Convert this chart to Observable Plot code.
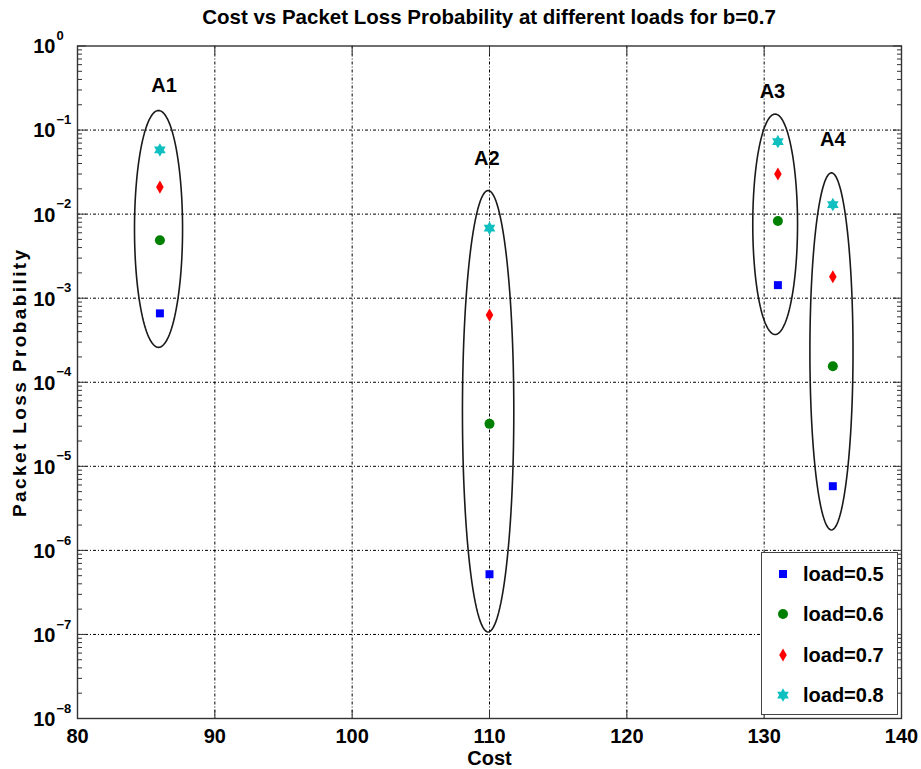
<!DOCTYPE html>
<html>
<head>
<meta charset="utf-8">
<script src="https://cdn.jsdelivr.net/npm/d3@7"></script>
<script src="https://cdn.jsdelivr.net/npm/@observablehq/plot@0.6"></script>
<style>
  body { margin: 0; background: #fff; font-family: "Liberation Sans", Arial, Helvetica, sans-serif; }
  #chart { position: relative; width: 921px; height: 769px; background: #fff; }
  #plot svg { display: block; }
  #title { position: absolute; left: 77px; top: 0; width: 824px; height: 32px; line-height: 34px; text-align: center;
           font-weight: bold; font-size: 20.5px; color: #000; white-space: nowrap; }
  #legend { position: absolute; left: 761px; top: 552px; width: 135px; height: 161px;
            border: 1px solid #444; background: #fff; }
  .row { position: absolute; left: 0; height: 26px; line-height: 26px; font-size: 20px; font-weight: bold; color: #000; }
  .row svg { position: absolute; left: 12px; top: 4px; }
  .row span { position: absolute; left: 41px; top: 0; white-space: nowrap; }
</style>
</head>
<body>
<div id="chart">
  <div id="plot"></div>
  <div id="title">Cost vs Packet Loss Probability at different loads for b=0.7</div>
  <div id="legend"></div>
</div>
<script>
// Four network configurations, their cost, and loss probability per load
const groups = ["A1", "A2", "A3", "A4"];
const costs = [86, 110, 131, 135];
const loads = ["load=0.5", "load=0.6", "load=0.7", "load=0.8"];
const load05 = [6.6e-4, 5.2e-7, 1.43e-3, 5.8e-6];
const load06 = [4.9e-3, 3.2e-5, 8.3e-3, 1.55e-4];
const load07 = [2.1e-2, 6.3e-4, 3.0e-2, 1.8e-3];
const load08 = [5.8e-2, 6.8e-3, 7.3e-2, 1.3e-2];

// Enclosing ellipses: centre cost, half width (cost units), top and bottom probability
const ellipseCx = [85.9, 109.9, 130.8, 134.9];
const ellipseHalfWidth = [1.75, 1.87, 1.63, 1.57];
const ellipseTop = [0.171, 0.0191, 0.155, 0.031];
const ellipseBottom = [2.6e-4, 1.07e-7, 3.7e-4, 1.75e-6];

// Group label anchors
const labelCost = [86.3, 109.8, 130.6, 135.0];
const labelProb = [0.339, 0.0459, 0.288, 0.0775];

// Axis ticks
const xTicks = [80, 90, 100, 110, 120, 130, 140];
const xGrid = [90, 100, 110, 120, 130];
const decades = [1e-8, 1e-7, 1e-6, 1e-5, 1e-4, 1e-3, 1e-2, 1e-1, 1e0];
const decadeExponents = ["\u22128", "\u22127", "\u22126", "\u22125", "\u22124", "\u22123", "\u22122", "\u22121", "0"];
const yGrid = decades.slice(1, -1);
const minorMultipliers = [2, 3, 4, 5, 6, 7, 8, 9];
const minorTicks = decades.slice(0, -1).flatMap(d => minorMultipliers.map(m => m * d));

// Six-pointed star marker
const hexagram = {
  draw(context, size) {
    const R = Math.sqrt(size / Math.PI) * 1.35;
    const r = R / Math.sqrt(3);
    for (let i = 0; i < 12; i++) {
      const a = i * Math.PI / 6 - Math.PI / 2;
      const rad = i % 2 === 0 ? R : r;
      const px = rad * Math.cos(a), py = rad * Math.sin(a);
      if (i === 0) context.moveTo(px, py); else context.lineTo(px, py);
    }
    context.closePath();
  }
};

const series = [
  {name: loads[0], values: load05, fill: "#0000FF", symbol: d3.symbolSquare, r: 4.5},
  {name: loads[1], values: load06, fill: "#008000", symbol: d3.symbolCircle, r: 5},
  {name: loads[2], values: load07, fill: "#FF0000", symbol: d3.symbolDiamond, r: 4},
  {name: loads[3], values: load08, fill: "#10BFBF", symbol: hexagram, r: 5}
];

// Ellipse outlines, traced in (cost, log10 probability) space
const ellipsePts = groups.flatMap((g, i) => {
  const cy = (Math.log10(ellipseTop[i]) + Math.log10(ellipseBottom[i])) / 2;
  const ry = (Math.log10(ellipseTop[i]) - Math.log10(ellipseBottom[i])) / 2;
  return d3.range(0, 121).map(k => {
    const t = k / 120 * 2 * Math.PI;
    return {group: g, cost: ellipseCx[i] + ellipseHalfWidth[i] * Math.cos(t), p: Math.pow(10, cy + ry * Math.sin(t))};
  });
});

const labels = groups.map((g, i) => ({text: g, cost: labelCost[i], p: labelProb[i]}));
const dash = "3,2,1,2";
const axisColor = "#333";

const plot = Plot.plot({
  width: 921,
  height: 769,
  marginTop: 45.5,
  marginBottom: 51,
  marginLeft: 77,
  marginRight: 20,
  style: {fontFamily: "'Liberation Sans', Arial, Helvetica, sans-serif", background: "#fff", color: "#000"},
  x: {type: "linear", domain: [80, 140]},
  y: {type: "log", domain: [1e-8, 1]},
  marks: [
    Plot.gridX(xGrid, {stroke: "#000", strokeOpacity: 1, strokeWidth: 1, strokeDasharray: dash}),
    Plot.gridY(yGrid, {stroke: "#000", strokeOpacity: 1, strokeWidth: 1, strokeDasharray: dash}),
    Plot.line(ellipsePts, {x: "cost", y: "p", z: "group", stroke: "#1a1a1a", strokeWidth: 1.6}),
    ...series.map(s => Plot.dot(s.values.map((v, i) => ({cost: costs[i], p: v})),
      {x: "cost", y: "p", fill: s.fill, stroke: "none", symbol: s.symbol, r: s.r})),
    Plot.text(labels, {x: "cost", y: "p", text: "text", fontSize: 20, fontWeight: "bold", fill: "#000"}),
    Plot.frame({stroke: axisColor, strokeWidth: 1.4}),
    // inward tick marks on all four sides
    Plot.axisX(xTicks, {anchor: "bottom", tickSize: -8, fill: "none", stroke: axisColor, label: null}),
    Plot.axisX(xTicks, {anchor: "top", tickSize: -8, fill: "none", stroke: axisColor, label: null}),
    Plot.axisY(decades, {anchor: "left", tickSize: -9, fill: "none", stroke: axisColor, label: null}),
    Plot.axisY(decades, {anchor: "right", tickSize: -9, fill: "none", stroke: axisColor, label: null}),
    Plot.axisY(minorTicks, {anchor: "left", tickSize: -5, fill: "none", stroke: axisColor, label: null}),
    Plot.axisY(minorTicks, {anchor: "right", tickSize: -5, fill: "none", stroke: axisColor, label: null}),
    // tick labels
    Plot.axisX(xTicks, {anchor: "bottom", tickSize: 0, tickPadding: 10, fontSize: 20, fontWeight: "bold", fill: "#000", label: null}),
    Plot.text(decades, {y: d => d, frameAnchor: "left", text: () => "10", textAnchor: "end", dx: -22, dy: 1, fontSize: 20, fontWeight: "bold", fill: "#000"}),
    Plot.text(decades, {y: d => d, frameAnchor: "left", text: (d, i) => decadeExponents[i], textAnchor: "start", dx: -21, dy: -10, fontSize: 13, fontWeight: "bold", fill: "#000"}),
    // axis titles
    Plot.text(["Cost"], {frameAnchor: "bottom", text: d => d, lineAnchor: "middle", dy: 40, fontSize: 20, fontWeight: "bold", fill: "#000"}),
    Plot.text(["Packet Loss Probability"], {frameAnchor: "left", text: d => d, textAnchor: "middle", lineAnchor: "middle", rotate: -90, dx: -58, fontSize: 19, fontWeight: "bold", fill: "#000", className: "ylabel"})
  ]
});
document.getElementById("plot").appendChild(plot);
// spaced-out lettering for the vertical axis title
plot.querySelectorAll(".ylabel text").forEach(t => t.style.letterSpacing = "2.4px");

// Legend drawn with the same marker shapes
const legend = document.getElementById("legend");
const rowCenters = [21, 61, 102, 142];
series.forEach((s, i) => {
  const row = document.createElement("div");
  row.className = "row";
  row.style.top = (rowCenters[i] - 13) + "px";
  const size = Math.PI * s.r * s.r;
  const path = d3.symbol(s.symbol, size)();
  row.innerHTML = `<svg width="18" height="18" viewBox="-9 -9 18 18"><path d="${path}" fill="${s.fill}"/></svg><span>${s.name}</span>`;
  legend.appendChild(row);
});
</script>
</body>
</html>
